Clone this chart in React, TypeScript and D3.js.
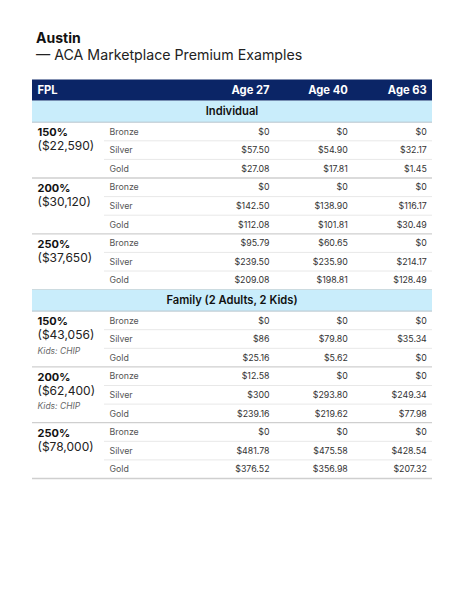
import React from 'react';
import * as d3 from 'd3';

const title = 'Austin';
const subtitle = '— ACA Marketplace Premium Examples';
const ages = ['Age 27', 'Age 40', 'Age 63'];
const tiers = ['Bronze', 'Silver', 'Gold'];
const fplLevels = ['150%', '200%', '250%'];
const sectionTitles = ['Individual', 'Family (2 Adults, 2 Kids)'];
const individualIncome = ['($22,590)', '($30,120)', '($37,650)'];
const familyIncome = ['($43,056)', '($62,400)', '($78,000)'];
const familyNotes = ['Kids: CHIP', 'Kids: CHIP', ''];

// [fpl][tier][age]
const individualPremiums = [
  [[0, 0, 0], [57.5, 54.9, 32.17], [27.08, 17.81, 1.45]],
  [[0, 0, 0], [142.5, 138.9, 116.17], [112.08, 101.81, 30.49]],
  [[95.79, 60.65, 0], [239.5, 235.9, 214.17], [209.08, 198.81, 128.49]],
];
const familyPremiums = [
  [[0, 0, 0], [86, 79.8, 35.34], [25.16, 5.62, 0]],
  [[12.58, 0, 0], [300, 293.8, 249.34], [239.16, 219.62, 77.98]],
  [[0, 0, 0], [481.78, 475.58, 428.54], [376.52, 356.98, 207.32]],
];

const FONT = 'Inter, "Noto Sans", sans-serif';
const fmt = (v: number) => (Number.isInteger(v) ? `$${v}` : `$${v.toFixed(2)}`);

export default function App() {
  const left = 32;
  const right = 432;
  const headerTop = 79.5;
  const headerH = 21.2;
  const bandH = 21.5;
  const rowH = 18.6;

  // right edges of the age columns
  const xAge = d3.scaleOrdinal<string, number>().domain(ages).range([269.5, 347.8, 426.8]);
  const xLabel = 37.5;
  const xTier = 109.5;
  const tierLineX = 104;

  const sections = [
    { title: sectionTitles[0], income: individualIncome, notes: ['', '', ''], data: individualPremiums },
    { title: sectionTitles[1], income: familyIncome, notes: familyNotes, data: familyPremiums },
  ];

  const sectionH = bandH + fplLevels.length * tiers.length * rowH;
  const ySection = d3.scaleLinear().domain([0, 1]).range([headerTop + headerH, headerTop + headerH + sectionH]);

  return (
    <svg width={448} height={584} style={{ display: 'block' }} fontFamily={FONT}>
      <rect width={448} height={584} fill="#fff" />
      <g transform="translate(-8,-8)">
        <text x={36} y={43.3} fontSize={14} fontWeight={700} fill="#111">{title}</text>
        <text x={36} y={59.5} fontSize={14.2} fill="#222">{subtitle}</text>
        <rect x={left} y={headerTop} width={right - left} height={headerH} fill="#0b2566" />
        <text x={xLabel} y={headerTop + headerH / 2} dy="0.36em" fontSize={11.2} fontWeight={700} fill="#fff">FPL</text>
        {ages.map(a => (
          <text key={a} x={xAge(a)} y={headerTop + headerH / 2} dy="0.36em" textAnchor="end" fontSize={11.2} fontWeight={700} fill="#fff">{a}</text>
        ))}
        {sections.map((s, si) => {
          const top = ySection(si);
          const rowY = d3.scaleLinear().domain([0, 9]).range([top + bandH, top + sectionH]);
          return (
            <g key={s.title}>
              <rect x={left} y={top} width={right - left} height={bandH} fill="#c9edfb" />
              <line x1={left} x2={right} y1={top + bandH} y2={top + bandH} stroke="#b8c4cc" strokeWidth={1} />
              <text x={(left + right) / 2} y={top + bandH / 2} dy="0.36em" textAnchor="middle" fontSize={11.2} fontWeight={600} fill="#111">{s.title}</text>
              {fplLevels.map((f, gi) => {
                const g0 = rowY(gi * 3);
                return (
                  <g key={f}>
                    <text x={xLabel} y={g0 + 10} dy="0.36em" fontSize={11} fontWeight={700} fill="#111">{f}</text>
                    <text x={xLabel} y={g0 + 23.5} dy="0.36em" fontSize={12} fill="#222">{s.income[gi]}</text>
                    {s.notes[gi] && (
                      <text x={xLabel} y={g0 + 39.5} dy="0.36em" fontSize={8.5} fontStyle="italic" fill="#666">{s.notes[gi]}</text>
                    )}
                    {tiers.map((t, ti) => {
                      const y0 = rowY(gi * 3 + ti);
                      const y1 = rowY(gi * 3 + ti + 1);
                      const isLast = ti === tiers.length - 1;
                      return (
                        <g key={t}>
                          <text x={xTier} y={(y0 + y1) / 2} dy="0.36em" fontSize={8.8} fill="#555">{t}</text>
                          {ages.map((a, ai) => (
                            <text key={a} x={xAge(a)} y={(y0 + y1) / 2} dy="0.36em" textAnchor="end" fontSize={8.8} fill="#333">{fmt(s.data[gi][ti][ai])}</text>
                          ))}
                          <line
                            x1={isLast ? left : tierLineX}
                            x2={right}
                            y1={y1}
                            y2={y1}
                            stroke={isLast ? '#cfcfcf' : '#e8e8e8'}
                            strokeWidth={isLast ? 1.3 : 1}
                          />
                        </g>
                      );
                    })}
                  </g>
                );
              })}
            </g>
          );
        })}
      </g>
    </svg>
  );
}
